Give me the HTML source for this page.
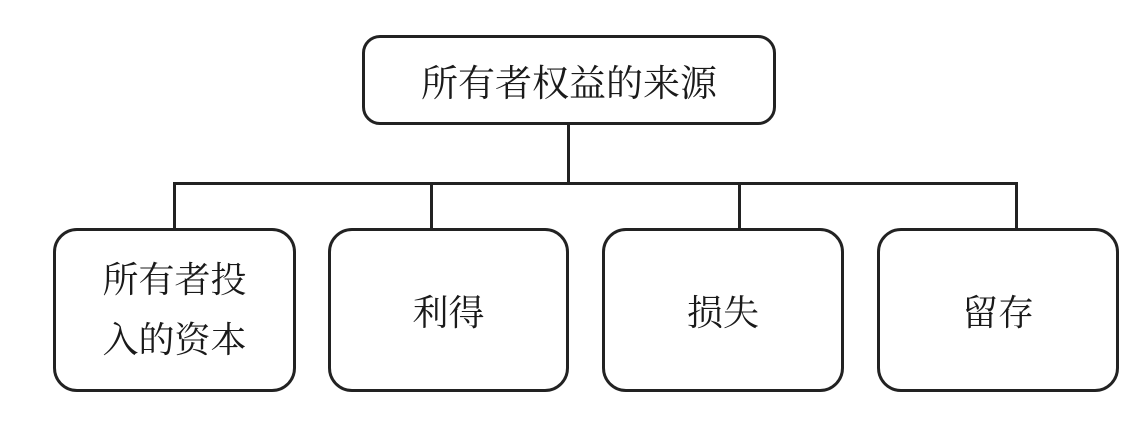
<!DOCTYPE html>
<html><head><meta charset="utf-8"><style>
html,body{margin:0;padding:0;background:#fff;}
body{width:1146px;height:421px;position:relative;overflow:hidden;font-family:"Liberation Serif","Noto Serif CJK SC",serif;color:#1a1a1a;}
.b{position:absolute;border:3px solid #222;border-radius:24px;box-sizing:border-box;display:flex;align-items:center;justify-content:center;text-align:center;background:#fff;}
.l{position:absolute;background:#222;}
</style></head><body>
<div class="l" style="left:567px;top:122px;width:3px;height:63px"></div>
<div class="l" style="left:173px;top:182px;width:845px;height:3px"></div>
<div class="l" style="left:173px;top:182px;width:3px;height:48px"></div>
<div class="l" style="left:430px;top:182px;width:3px;height:48px"></div>
<div class="l" style="left:738px;top:182px;width:3px;height:48px"></div>
<div class="l" style="left:1015px;top:182px;width:3px;height:48px"></div>
<div class="b" style="left:362px;top:35px;width:414px;height:90px;font-size:37px;border-radius:18px">所有者权益的来源</div>
<div class="b" style="left:53px;top:228px;width:243px;height:164px;font-size:36px;line-height:60px">所有者投<br>入的资本</div>
<div class="b" style="left:328px;top:228px;width:241px;height:164px;font-size:36px">利得</div>
<div class="b" style="left:602px;top:228px;width:242px;height:164px;font-size:36px">损失</div>
<div class="b" style="left:877px;top:228px;width:242px;height:164px;font-size:36px">留存</div>
</body></html>
